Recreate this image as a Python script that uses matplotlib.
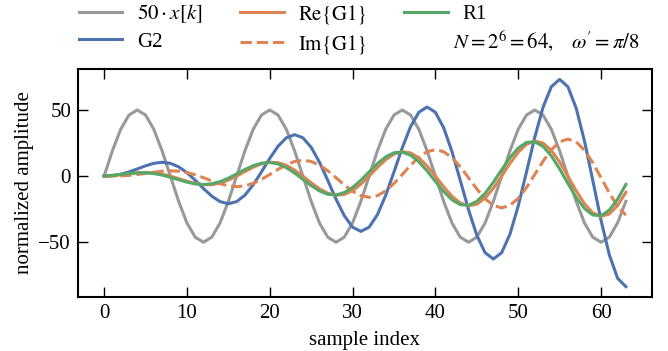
# -*- coding: utf-8 -*-
import matplotlib
matplotlib.use("Agg")
import matplotlib.pyplot as plt

##################
# Data (read off #
##################
k = list(range(64))

# 50 * x[k]
x50 = [0.0, 19.1, 35.4, 46.2, 50.0, 46.2, 35.4, 19.1, 0.0, -19.1, -35.4, -46.2, -50.0, -46.2, -35.4, -19.1,
       0.0, 19.1, 35.4, 46.2, 50.0, 46.2, 35.4, 19.1, 0.0, -19.1, -35.4, -46.2, -50.0, -46.2, -35.4, -19.1,
       0.0, 19.1, 35.4, 46.2, 50.0, 46.2, 35.4, 19.1, 0.0, -19.1, -35.4, -46.2, -50.0, -46.2, -35.4, -19.1,
       0.0, 19.1, 35.4, 46.2, 50.0, 46.2, 35.4, 19.1, 0.0, -19.1, -35.4, -46.2, -50.0, -46.2, -35.4, -19.1]

g2 = [0.0, 0.38, 1.41, 3.15, 5.41, 7.77, 9.66, 10.45, 9.66, 7.01, 2.59, -3.15, -9.41, -15.17, -19.31, -20.91,
      -19.31, -14.40, -6.59, 3.15, 13.41, 22.56, 28.97, 31.36, 28.97, 21.79, 10.59, -3.15, -17.41, -29.95, -38.63, -41.81,
      -38.63, -29.18, -14.59, 3.15, 21.41, 37.34, 48.28, 52.26, 48.28, 36.57, 18.59, -3.15, -25.41, -44.73, -57.94, -62.72,
      -57.94, -43.96, -22.59, 3.15, 29.41, 52.12, 67.60, 73.17, 67.60, 51.35, 26.59, -3.15, -33.41, -59.51, -77.26, -83.62]

re_g1 = [0.0, 0.38, 1.06, 1.85, 2.50, 2.77, 2.47, 1.53, 0.0, -1.91, -3.89, -5.54, -6.50, -6.47, -5.30, -3.06,
         0.0, 3.44, 6.72, 9.24, 10.50, 10.16, 8.13, 4.59, 0.0, -4.97, -9.55, -12.93, -14.50, -13.86, -10.96, -6.12,
         0.0, 6.51, 12.37, 16.63, 18.50, 17.55, 13.79, 7.65, 0.0, -8.04, -15.20, -20.33, -22.50, -21.25, -16.62, -9.18,
         0.0, 9.57, 18.03, 24.02, 26.50, 24.94, 19.45, 10.72, 0.0, -11.10, -20.86, -27.72, -30.50, -28.64, -22.27, -12.25]

im_g1 = [0.0, 0.0, 0.15, 0.54, 1.21, 2.07, 2.98, 3.70, 4.00, 3.70, 2.68, 0.99, -1.21, -3.60, -5.80, -7.39,
         -8.00, -7.39, -5.51, -2.52, 1.21, 5.13, 8.63, 11.09, 12.00, 11.09, 8.34, 4.05, -1.21, -6.66, -11.46, -14.78,
         -16.00, -14.78, -11.17, -5.58, 1.21, 8.20, 14.29, 18.48, 20.00, 18.48, 14.00, 7.11, -1.21, -9.73, -17.12, -22.17,
         -24.00, -22.17, -16.82, -8.64, 1.21, 11.26, 19.95, 25.87, 28.00, 25.87, 19.65, 10.17, -1.21, -12.79, -22.77, -29.56]

r1 = [0.10, 0.56, 1.25, 1.96, 2.45, 2.49, 1.94, 0.78, -0.88, -2.78, -4.57, -5.88, -6.38, -5.82, -4.17, -1.56,
      1.66, 5.00, 7.90, 9.81, 10.30, 9.15, 6.39, 2.34, -2.44, -7.22, -11.22, -13.73, -14.22, -12.47, -8.61, -3.12,
      3.22, 9.44, 14.55, 17.65, 18.14, 15.80, 10.83, 3.90, -4.00, -11.67, -17.88, -21.58, -22.07, -19.12, -13.06, -4.68,
      4.78, 13.89, 21.20, 25.50, 25.99, 22.45, 15.28, 5.46, -5.56, -16.11, -24.53, -29.42, -29.91, -25.78, -17.50, -6.24]

##################
# Style          #
##################
plt.rcParams['font.family'] = ['Liberation Serif', 'DejaVu Serif']
plt.rcParams['mathtext.fontset'] = 'stix'
plt.rcParams['font.size'] = 15

GRAY = '#999999'
BLUE = '#4c72b0'
ORANGE = '#dd8452'
GREEN = '#55a868'
LW = 2.2

fig = plt.figure(figsize=(6.68, 3.51), dpi=100)
ax = fig.add_axes([0.1168, 0.1538, 0.976 - 0.1168, 0.8034 - 0.1538])

ax.plot(k, x50, color=GRAY, lw=LW, label=r'$50 \cdot x[k]$')
ax.plot(k, g2, color=BLUE, lw=LW, label='G2')
ax.plot(k, re_g1, color=ORANGE, lw=LW, label=r'$\mathrm{Re}\{\mathrm{G1}\}$')
ax.plot(k, im_g1, color=ORANGE, lw=LW, ls='--', label=r'$\mathrm{Im}\{\mathrm{G1}\}$')
ax.plot(k, r1, color=GREEN, lw=LW, label='R1')

ax.set_xlabel('sample index', labelpad=6)
ax.set_ylabel('normalized amplitude', labelpad=3)
ax.set_xticks([0, 10, 20, 30, 40, 50, 60])
ax.set_yticks([-50, 0, 50])

ax.tick_params(direction='in', top=True, right=True, length=7, width=1.0, labelsize=15, pad=5)
for sp in ax.spines.values():
    sp.set_linewidth(1.5)

ax.legend(loc='lower left', bbox_to_anchor=(-0.01, 1.03), ncol=3, frameon=False,
          handlelength=2.1, handletextpad=0.7, columnspacing=1.8,
          labelspacing=0.35, borderaxespad=0.0, borderpad=0.3)

fig.text(453 / 668, 1 - 41 / 351, r"$N = 2^6 = 64,\quad \omega' = \pi / 8$",
         ha='left', va='center', fontsize=15)

fig.savefig('out.png', dpi=100)
